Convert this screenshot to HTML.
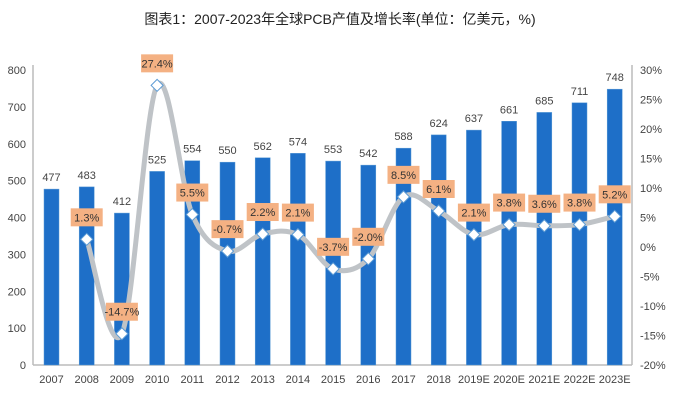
<!DOCTYPE html>
<html><head><meta charset="utf-8"><style>
body{margin:0;background:#fff;font-family:"Liberation Sans","Noto Sans CJK SC",sans-serif}
</style></head><body>
<svg width="680" height="413" xmlns="http://www.w3.org/2000/svg" font-family="Liberation Sans, Noto Sans CJK SC, sans-serif">
<text x="340" y="24" text-anchor="middle" font-size="14" fill="#222">图表1：2007-2023年全球PCB产值及增长率(单位：亿美元，%)</text>
<g id="axes"></g><g id="bars"></g><g id="line"></g><g id="labels"></g>
</svg>
<script>
const categories=["2007","2008","2009","2010","2011","2012","2013","2014","2015","2016","2017","2018","2019E","2020E","2021E","2022E","2023E"];
const values=[477,483,412,525,554,550,562,574,553,542,588,624,637,661,685,711,748];
const growth=[null,1.3,-14.7,27.4,5.5,-0.7,2.2,2.1,-3.7,-2.0,8.5,6.1,2.1,3.8,3.6,3.8,5.2];
const leftTicks=[0,100,200,300,400,500,600,700,800];
const rightTicks=[-20,-15,-10,-5,0,5,10,15,20,25,30];
const NS="http://www.w3.org/2000/svg";
const yTop=70,yBot=365;
const yL=v=>yBot-(v/800)*(yBot-yTop);
const yR=v=>yBot-((v+20)/50)*(yBot-yTop);
const x=i=>51.5+i*35.2;
function mk(tag,attrs,parent,txt){const e=document.createElementNS(NS,tag);for(const k in attrs)e.setAttribute(k,attrs[k]);if(txt!==undefined)e.textContent=txt;document.getElementById(parent).appendChild(e);return e;}
let e;
e=mk('line',{x1:33,y1:yTop-5,x2:33,y2:yBot,stroke:'#bbb','stroke-width':1.5},'axes');


e=mk('line',{x1:33,y1:yBot,x2:632,y2:yBot,stroke:'#bbb','stroke-width':1.5},'axes');


e=mk('line',{x1:632,y1:yTop-5,x2:632,y2:yBot,stroke:'#bbb','stroke-width':1.5},'axes');


leftTicks.forEach(t=>{e=mk('text',{x:26,y:yL(t)+4,'text-anchor':'end','font-size':11,fill:'#444'},'axes',t);

});
rightTicks.forEach(t=>{e=mk('text',{x:640,y:yR(t)+4,'font-size':11,fill:'#444'},'axes',t+'%');

});
categories.forEach((c,i)=>{e=mk('text',{x:x(i),y:383,'text-anchor':'middle','font-size':11,fill:'#444'},'axes',c);

});
values.forEach((v,i)=>{
e=mk('rect',{x:x(i)-7.5,y:yL(v),width:15,height:yBot-yL(v),fill:'#1E6FC8',stroke:'#5B9BD5','stroke-width':0.5},'bars');


e=mk('text',{x:x(i),y:yL(v)-8,'text-anchor':'middle','font-size':11,fill:'#444'},'bars',v);


});
const pts=[];growth.forEach((g,i)=>{if(g!==null)pts.push([x(i),yR(g)]);});
let d='M'+pts[0][0]+','+pts[0][1];
for(let i=0;i<pts.length-1;i++){const p0=pts[Math.max(0,i-1)],p1=pts[i],p2=pts[i+1],p3=pts[Math.min(pts.length-1,i+2)];
const c1=[p1[0]+(p2[0]-p0[0])/6,p1[1]+(p2[1]-p0[1])/6],c2=[p2[0]-(p3[0]-p1[0])/6,p2[1]-(p3[1]-p1[1])/6];
d+=` C${c1[0]},${c1[1]} ${c2[0]},${c2[1]} ${p2[0]},${p2[1]}`;}
e=mk('path',{d:d,fill:'none',stroke:'#BFC3C7','stroke-width':5,'stroke-linecap':'round'},'line');


growth.forEach((g,i)=>{if(g===null)return;const px=x(i),py=yR(g);
e=mk('path',{d:`M${px},${py-6}L${px+6},${py}L${px},${py+6}L${px-6},${py}Z`,fill:'#fff',stroke:'#5B9BD5','stroke-width':1},'line');


const ly=py-22;
e=mk('rect',{x:px-16,y:ly-9,width:32,height:18,fill:'#F4B183'},'labels');


e=mk('text',{x:px,y:ly+4,'text-anchor':'middle','font-size':11,fill:'#333'},'labels',g.toFixed(1)+'%');


});
</script>
</body></html>
